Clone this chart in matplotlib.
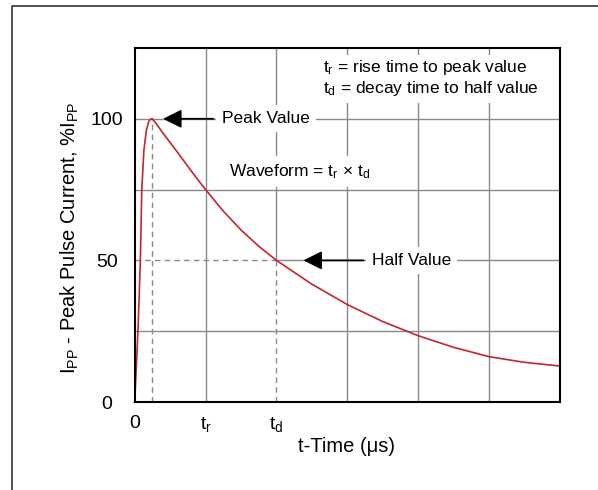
import matplotlib
matplotlib.use("Agg")
import matplotlib.pyplot as plt
from matplotlib.lines import Line2D
from matplotlib.patches import Rectangle

plt.rcParams['font.family'] = ['Liberation Sans', 'DejaVu Sans']
plt.rcParams['mathtext.fontset'] = 'custom'
plt.rcParams['mathtext.rm'] = 'Liberation Sans'
plt.rcParams['mathtext.default'] = 'regular'

# pulse shape (t in grid units, current in % of peak)
t_us = [0, 0.046, 0.08, 0.10, 0.13, 0.165, 0.20, 0.225, 0.25, 0.30, 0.40,
        0.50, 0.60, 0.70, 0.80, 0.90, 1.0, 1.25, 1.5, 1.75, 2.0, 2.5, 3.0,
        3.5, 4.0, 4.5, 5.0, 5.5, 6.0]
ipp_pct = [0, 25, 50, 75, 89, 96, 99.2, 99.9, 100, 98.4, 94.9,
           91.6, 88.3, 84.9, 81.5, 78.2, 75, 67.4, 60.75, 55.0, 50, 41.6, 34.4,
           28.4, 23.4, 19.3, 16.0, 14.0, 12.7]
peak_t = 0.25
td = 2
half_val = 50

x_ticks = [0, 1, 2]
x_ticklabels = ['0', '$t_r$', '$t_d$']
y_ticks = [0, 50, 100]

grid_c = '#8a8a8a'
red = '#c3262b'

fig = plt.figure(figsize=(5.98, 4.90), dpi=100)
ax = fig.add_axes([134.7 / 598, 88 / 490, 425.3 / 598, 354 / 490])
ax.set_xlim(0, 6)
ax.set_ylim(0, 125)

# grid, drawn by hand because some pieces are dashed
for gx in [1, 3, 4, 5]:
    ax.plot([gx, gx], [0, 125], color=grid_c, lw=1.0, zorder=1)
ax.plot([td, td], [half_val, 125], color=grid_c, lw=1.0, zorder=1)
ax.plot([td, td], [0, half_val], color=grid_c, lw=1.0, dashes=(4, 3), zorder=1)
for gy in [25, 75, 100]:
    ax.plot([0, 6], [gy, gy], color=grid_c, lw=1.0, zorder=1)
ax.plot([td, 6], [half_val, half_val], color=grid_c, lw=1.0, zorder=1)
ax.plot([0, td], [half_val, half_val], color=grid_c, lw=1.0, dashes=(4, 3), zorder=1)
ax.plot([peak_t, peak_t], [0, 100], color=grid_c, lw=1.0, dashes=(4, 3), zorder=1)

# curve
ax.plot(t_us, ipp_pct, color=red, lw=1.2, zorder=4, clip_on=False)

for s in ax.spines.values():
    s.set_linewidth(1.5)
    s.set_color('black')
    s.set_zorder(5)

ax.set_xticks(x_ticks)
ax.set_xticklabels(x_ticklabels)
ax.set_yticks(y_ticks)
ax.tick_params(length=0, labelsize=14)
ax.tick_params(axis='x', pad=9)
ax.tick_params(axis='y', pad=20)
for lab in ax.get_yticklabels():
    lab.set_ha('center')

# legend-like text in the top right
ax.add_patch(Rectangle((2.55, 105.5), 3.15, 17.2, facecolor='white',
                       edgecolor='none', zorder=2))
ax.text(2.656, 118, '$t_r$ = rise time to peak value', fontsize=12.5,
        va='center', ha='left', zorder=3)
ax.text(2.656, 110.6, '$t_d$ = decay time to half value', fontsize=12.5,
        va='center', ha='left', zorder=3)

box = dict(boxstyle='square,pad=0.35', facecolor='white', edgecolor='none')
ax.text(1.33, 81.3, 'Waveform = $t_r$ × $t_d$', fontsize=12.5, va='center',
        ha='left', bbox=box, zorder=3)

arrow = dict(arrowstyle='-|>,head_length=0.9,head_width=0.45', color='black',
             lw=1.3, shrinkA=2, shrinkB=0)
ax.annotate('Peak Value', xy=(0.40, 100), xytext=(1.235, 100), fontsize=12.5,
            va='center', ha='left', bbox=box, arrowprops=arrow, zorder=3)
ax.annotate('Half Value', xy=(2.38, half_val), xytext=(3.35, half_val),
            fontsize=12.5, va='center', ha='left', bbox=box, arrowprops=arrow,
            zorder=3)

fig.text(70 / 598, 1 - 237.5 / 490, '$I_{PP}$ - Peak Pulse Current, %$I_{PP}$',
         rotation=90, ha='center', va='center', fontsize=14.5)
fig.text(347 / 598, 1 - 447 / 490, 't-Time (μs)', ha='center', va='center',
         fontsize=14.5)

# outer frame (only left and top edges show)
fig.add_artist(Line2D([12 / 598, 12 / 598, 1], [0, 1 - 6 / 490, 1 - 6 / 490],
                      color='#333333', lw=1.2))

fig.savefig('out.png', dpi=100, facecolor='white')
